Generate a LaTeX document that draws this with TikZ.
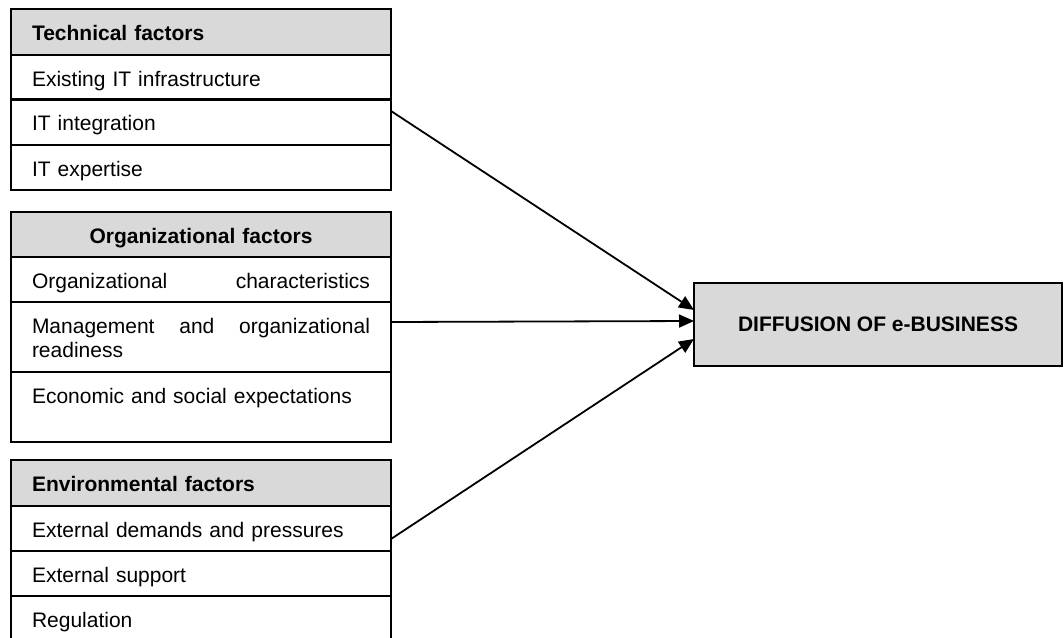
\documentclass[tikz,border=0pt]{standalone}
\usepackage{fontspec}
\setmainfont{Liberation Sans}
\usetikzlibrary{arrows.meta}

\definecolor{hdrgray}{HTML}{D9D9D9}

\begin{document}
\begin{tikzpicture}[x=1pt, y=-1pt,
    row/.style={draw, line width=1.8pt, outer sep=0pt, anchor=north west,
        text width=338pt, inner xsep=21pt, inner ysep=0pt, align=left,
        text height=31pt, text depth=14pt, font=\fontsize{21}{24}\selectfont},
    hdr/.style={row, fill=hdrgray, text depth=15pt, font=\fontsize{21}{24}\selectfont\bfseries},
    tall/.style={text depth=39pt},
    arrow/.style={line width=1.8pt, -{Triangle[length=15pt, width=13pt]}}]
    % Define dimensions (one unit = one pixel of the page)
    \def\tabx{11}   % left edge of the three tables
    \def\diffx{694} % left edge of the result box

    % Page frame, the last table runs off the bottom
    \useasboundingbox (0,0) rectangle (1064,637);
    \clip (0,0) rectangle (1064,637);

    % Technical factors
    \node[hdr] (tech) at (\tabx,9) {Technical factors};
    \node[row] (infra) at (\tabx,55) {Existing IT infrastructure};
    \node[row, text depth=15pt] (integ) at (\tabx,99) {IT integration};
    \node[row] (expert) at (\tabx,145) {IT expertise};

    % Organizational factors
    \node[hdr, text depth=14pt, align=center] (org) at (\tabx,212) {Organizational factors};
    \node[row] (chars) at (\tabx,257) {Organizational\hfill characteristics};
    \node[row, tall] (mgmt) at (\tabx,302) {Management\hfill and\hfill organizational\\readiness};
    \node[row, tall] (econ) at (\tabx,372) {Economic and social expectations};

    % Environmental factors
    \node[hdr] (env) at (\tabx,460) {Environmental factors};
    \node[row] (demand) at (\tabx,506) {External demands and pressures};
    \node[row] (support) at (\tabx,551) {External support};
    \node[row] (regul) at (\tabx,596) {Regulation};

    % Result box
    \node[draw, line width=1.8pt, outer sep=0pt, anchor=north west, fill=hdrgray,
        minimum width=368pt, minimum height=83pt,
        font=\fontsize{21}{24}\selectfont\bfseries] (diff) at (\diffx,283) {DIFFUSION OF e-BUSINESS};

    % Arrows into the result box
    \draw[arrow] ([yshift=11pt]integ.east) -- ([yshift=14.5pt]diff.west);
    \draw[arrow] ([yshift=15pt]mgmt.east) -- ([yshift=3.5pt]diff.west);
    \draw[arrow] ([yshift=-10.5pt]demand.east) -- ([yshift=-14.5pt]diff.west);
\end{tikzpicture}
\end{document}
